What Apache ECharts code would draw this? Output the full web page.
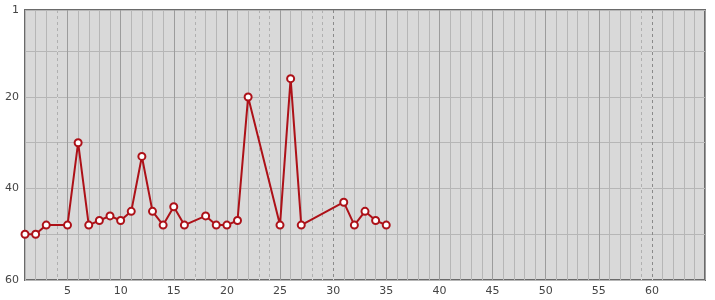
<!DOCTYPE html>
<html>
<head>
<meta charset="utf-8">
<script src="https://cdn.jsdelivr.net/npm/echarts@6/dist/echarts.min.js"></script>
<style>html,body{margin:0;padding:0;background:#fff}#c{width:715px;height:300px}</style>
</head>
<body>
<div id="c"></div>
<script>
var laps = [1,2,3,5,6,7,8,9,10,11,12,13,14,15,16,18,19,20,21,22,25,26,27,31,32,33,34,35];
var positions = [50,50,48,48,30,48,47,46,47,45,33,45,48,44,48,46,48,48,47,20,48,16,48,43,48,45,47,48];
var dashedLaps = [4,17,23,24,28,29,30,59,60];
var yLabels = [1,20,40,60];
var xMin = 1, xMax = 65, yMin = 1, yMax = 60;

var bg = '#d9d9d9', minor = '#b6b6b6', major = '#9c9c9c';
var vColors = [];
for (var v = xMin; v <= xMax; v++) {
  vColors.push(dashedLaps.indexOf(v) >= 0 ? bg : (v % 5 === 0 ? major : minor));
}
var markData = dashedLaps.map(function (l) {
  return { xAxis: l, lineStyle: { color: l % 5 === 0 ? '#8a8a8a' : '#b0b0b0' } };
});
var pts = laps.map(function (l, i) { return [l, positions[i]]; });

var chart = echarts.init(document.getElementById('c'), null, { renderer: 'canvas' });
chart.setOption({
  animation: false,
  backgroundColor: '#fff',
  textStyle: { fontFamily: 'DejaVu Sans' },
  grid: { left: 25, right: 10, top: 10, bottom: 20, show: true, backgroundColor: bg, borderColor: '#6a6a6a', borderWidth: 2 },
  xAxis: {
    type: 'value', min: xMin, max: xMax, interval: 1,
    axisLine: { show: false }, axisTick: { show: false },
    axisLabel: { color: '#444', fontSize: 11, margin: 6,
      formatter: function (v) { return (v % 5 === 0 && v < xMax) ? String(v) : ''; } },
    splitLine: { show: true, lineStyle: { color: vColors, width: 1 } }
  },
  yAxis: {
    type: 'value', min: yMin, max: yMax, inverse: true, splitNumber: 6,
    axisLine: { show: false }, axisTick: { show: false },
    axisLabel: { color: '#444', fontSize: 11, margin: 6,
      formatter: function (v) { return yLabels.indexOf(v) >= 0 ? String(v) : ''; } },
    splitLine: { show: true, lineStyle: { color: minor, width: 1 } }
  },
  series: [
    {
      type: 'line', data: [], silent: true,
      markLine: { silent: true, symbol: 'none', label: { show: false },
        lineStyle: { type: [3, 3], width: 1 }, data: markData }
    },
    {
      type: 'line', data: pts,
      symbol: 'circle', symbolSize: 7,
      itemStyle: { color: '#ffffff', borderColor: '#ad1118', borderWidth: 2 },
      lineStyle: { color: '#ad1118', width: 2 },
      z: 5
    }
  ]
});
</script>
</body>
</html>
